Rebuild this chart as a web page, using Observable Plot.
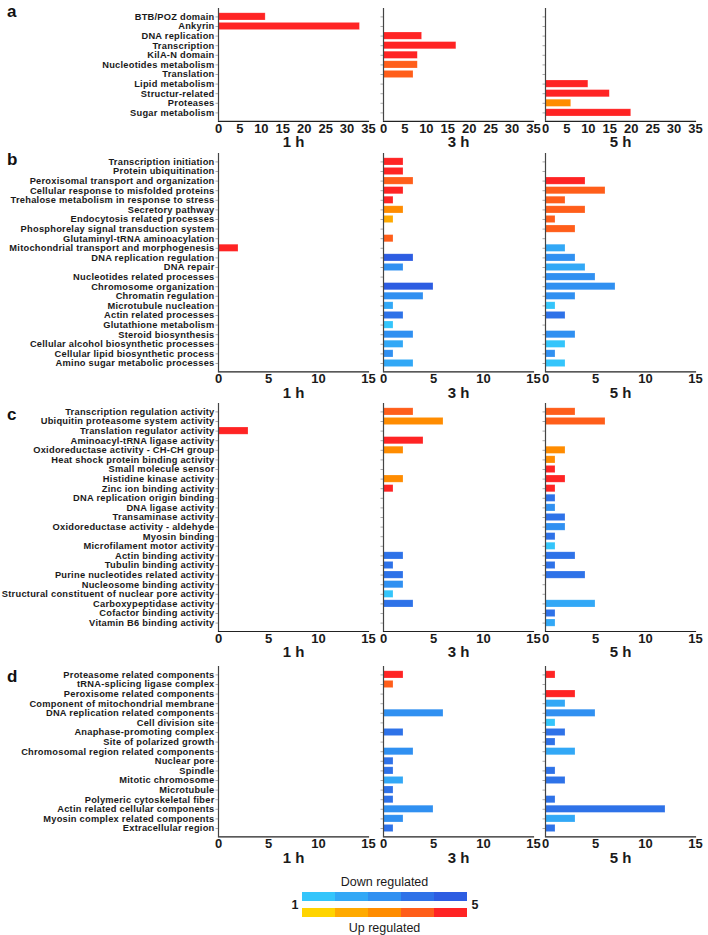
<!DOCTYPE html>
<html><head><meta charset="utf-8">
<script src="https://cdn.jsdelivr.net/npm/d3@7"></script>
<script src="https://cdn.jsdelivr.net/npm/@observablehq/plot@0.6"></script>
<style>
body{margin:0;background:#fff;}
#fig{position:relative;width:708px;height:935px;overflow:hidden;font-family:"Liberation Sans",Arial,sans-serif;}
#fig svg{position:absolute;overflow:visible;}
#fig g[aria-label="y-axis tick label"]{letter-spacing:0.25px;}
.letter{position:absolute;font:bold 17px "Liberation Sans",Arial,sans-serif;line-height:17px;color:#111;}
</style></head><body><div id="fig"></div>
<script>
// ---------- data ----------
const times = ["1 h", "3 h", "5 h"];
const levelCodes = ["D1","D2","D3","D4","D5","U1","U2","U3","U4","U5"];
const levelColors = ["#34c5fb","#32a8f6","#3090f1","#2e72e8","#2d5de2","#ffd400","#ffaa00","#ff8c00","#ff5e1a","#ff2424"];
const xTicksA = [0,5,10,15,20,25,30,35];
const xTicksB = [0,5,10,15];

const aCategories = ["BTB/POZ domain","Ankyrin","DNA replication","Transcription","KilA-N domain","Nucleotides metabolism","Translation","Lipid metabolism","Structur-related","Proteases","Sugar metabolism"];
const aValues1h = [11,33,0,0,0,0,0,0,0,0,0];
const aLevels1h = ["U5","U5","","","","","","","","",""];
const aValues3h = [0,0,9,17,8,8,7,0,0,0,0];
const aLevels3h = ["","","U5","U5","U5","U4","U4","","","",""];
const aValues5h = [0,0,0,0,0,0,0,10,15,6,20];
const aLevels5h = ["","","","","","","","U5","U5","U3","U5"];

const bCategories = ["Transcription initiation","Protein ubiquitination","Peroxisomal transport and organization","Cellular response to misfolded proteins","Trehalose metabolism in response to stress","Secretory pathway","Endocytosis related processes","Phosphorelay signal transduction system","Glutaminyl-tRNA aminoacylation","Mitochondrial transport and morphogenesis","DNA replication regulation","DNA repair","Nucleotides related processes","Chromosome organization","Chromatin regulation","Microtubule nucleation","Actin related processes","Glutathione metabolism","Steroid biosynthesis","Cellular alcohol biosynthetic processes","Cellular lipid biosynthetic process","Amino sugar metabolic processes"];
const bValues1h = [0,0,0,0,0,0,0,0,0,2,0,0,0,0,0,0,0,0,0,0,0,0];
const bLevels1h = ["","","","","","","","","","U5","","","","","","","","","","","",""];
const bValues3h = [2,2,3,2,1,2,1,0,1,0,3,2,0,5,4,1,2,1,3,2,1,3];
const bLevels3h = ["U5","U5","U4","U5","U5","U3","U2","","U4","","D5","D3","","D5","D3","D2","D4","D1","D3","D2","D3","D2"];
const bValues5h = [0,0,4,6,2,4,1,3,0,2,3,4,5,7,3,1,2,0,3,2,1,2];
const bLevels5h = ["","","U5","U4","U4","U4","U4","U4","","D2","D3","D2","D3","D3","D3","D1","D4","","D3","D1","D3","D1"];

const cCategories = ["Transcription regulation activity","Ubiquitin proteasome system activity","Translation regulator activity","Aminoacyl-tRNA ligase activity","Oxidoreductase activity - CH-CH group","Heat shock protein binding activity","Small molecule sensor","Histidine kinase activity","Zinc ion binding activity","DNA replication origin binding","DNA ligase activity","Transaminase activity","Oxidoreductase activity - aldehyde","Myosin binding","Microfilament motor activity","Actin binding activity","Tubulin binding activity","Purine nucleotides related activity","Nucleosome binding activity","Structural constituent of nuclear pore activity","Carboxypeptidase activity","Cofactor binding activity","Vitamin B6 binding activity"];
const cValues1h = [0,0,3,0,0,0,0,0,0,0,0,0,0,0,0,0,0,0,0,0,0,0,0];
const cLevels1h = ["","","U5","","","","","","","","","","","","","","","","","","","",""];
const cValues3h = [3,6,0,4,2,0,0,2,1,0,0,0,0,0,0,2,1,2,2,1,3,0,0];
const cLevels3h = ["U4","U3","","U5","U3","","","U3","U5","","","","","","","D4","D4","D4","D3","D1","D4","",""];
const cValues5h = [3,6,0,0,2,1,1,2,1,1,1,2,2,1,1,3,1,4,0,0,5,1,1];
const cLevels5h = ["U4","U4","","","U3","U3","U5","U5","U5","D4","D3","D4","D3","D4","D1","D4","D4","D4","","","D2","D4","D2"];

const dCategories = ["Proteasome related components","tRNA-splicing ligase complex","Peroxisome related components","Component of mitochondrial membrane","DNA replication related components","Cell division site","Anaphase-promoting complex","Site of polarized growth","Chromosomal region related components","Nuclear pore","Spindle","Mitotic chromosome","Microtubule","Polymeric cytoskeletal fiber","Actin related cellular components","Myosin complex related components","Extracellular region"];
const dValues1h = [0,0,0,0,0,0,0,0,0,0,0,0,0,0,0,0,0];
const dLevels1h = ["","","","","","","","","","","","","","","","",""];
const dValues3h = [2,1,0,0,6,0,2,0,3,1,1,2,1,1,5,2,1];
const dLevels3h = ["U5","U4","","","D3","","D4","","D3","D4","D4","D2","D4","D4","D3","D3","D4"];
const dValues5h = [1,0,3,2,5,1,2,1,3,0,1,2,0,1,12,3,1];
const dLevels5h = ["U5","","U5","D2","D3","D1","D4","D4","D2","","D4","D4","","D4","D4","D2","D4"];

const legendLevels = [1,2,3,4,5];
const legendRows = ["Down regulated","Up regulated"];

// ---------- drawing ----------
const fig = document.getElementById("fig");
const FONT = "Liberation Sans, Arial, sans-serif";
const STEP = 9.6, PI = 0.25, PO = 0.5;
const INNER_W = 150;
const X0 = [218, 383, 545];

function subplot(cats, vals, lvls, t, xmax, ticks, firstRowY) {
  const data = cats.map((c, i) => ({cat: c, v: vals[i], lvl: lvls[i]})).filter(d => d.v > 0);
  const n = cats.length;
  const range = STEP * (n - PI + 2 * PO);
  const mt = 4, mb = 32;
  const showLabels = t === 0;
  const ml = showLabels ? X0[0] : 12;
  const mr = 12;
  const svg = Plot.plot({
    width: ml + INNER_W + mr,
    height: mt + range + mb,
    marginLeft: ml, marginRight: mr, marginTop: mt, marginBottom: mb,
    style: {fontFamily: FONT, fontWeight: "bold", color: "#1a1a1a", background: "transparent", overflow: "visible"},
    x: {domain: [0, xmax]},
    y: {domain: cats, paddingInner: PI, paddingOuter: PO, round: false},
    color: {type: "ordinal", domain: levelCodes, range: levelColors},
    marks: [
      Plot.barX(data, {x: "v", y: "cat", fill: "lvl", stroke: "white", strokeOpacity: 0.35, strokeWidth: 0.6}),
      Plot.axisY({label: null, tickSize: 2.5, tickPadding: 1.5, fontSize: 9.3, stroke: "#aaa",
        tickFormat: showLabels ? (d => d) : (() => "")}),
      Plot.axisX(ticks, {label: null, tickSize: 0, tickPadding: 2, fontSize: 13}),
      Plot.ruleX([0], {stroke: "#444", strokeWidth: 1.2}),
      Plot.frame({anchor: "bottom", stroke: "#222", strokeWidth: 1.2}),
      Plot.text([times[t]], {text: d => d, frameAnchor: "bottom", lineAnchor: "middle", dy: 21, fontSize: 15, fontWeight: "bold"})
    ]
  });
  const r0 = firstRowY - STEP * (PO + (1 - PI) / 2);
  svg.style.left = (X0[t] - ml) + "px";
  svg.style.top = (r0 - mt) + "px";
  fig.appendChild(svg);
}

function panel(cats, valsList, lvlsList, xmax, ticks, firstRowY, letter, letterY) {
  for (let t = 0; t < 3; t++) subplot(cats, valsList[t], lvlsList[t], t, xmax, ticks, firstRowY);
  const div = document.createElement("div");
  div.className = "letter";
  div.textContent = letter;
  div.style.left = "7px";
  div.style.top = (letterY - 9) + "px";
  fig.appendChild(div);
}

panel(aCategories, [aValues1h, aValues3h, aValues5h], [aLevels1h, aLevels3h, aLevels5h], 35, xTicksA, 16, "a", 12);
panel(bCategories, [bValues1h, bValues3h, bValues5h], [bLevels1h, bLevels3h, bLevels5h], 15, xTicksB, 161, "b", 160);
panel(cCategories, [cValues1h, cValues3h, cValues5h], [cLevels1h, cLevels3h, cLevels5h], 15, xTicksB, 411, "c", 415);
panel(dCategories, [dValues1h, dValues3h, dValues5h], [dLevels1h, dLevels3h, dLevels5h], 15, xTicksB, 674, "d", 677);

// legend
const legendCells = [];
legendRows.forEach((r, ri) => legendLevels.forEach(l => legendCells.push({row: r, level: l, code: (ri === 0 ? "D" : "U") + l})));
const legend = Plot.plot({
  width: 208, height: 20 + 27 + 16,
  marginLeft: 20, marginRight: 20, marginTop: 20, marginBottom: 16,
  style: {fontFamily: FONT, color: "#1a1a1a", background: "transparent", overflow: "visible"},
  x: {domain: legendLevels, padding: 0, axis: null},
  y: {domain: legendRows, paddingInner: 0.41, paddingOuter: 0, axis: null},
  color: {type: "ordinal", domain: levelCodes, range: levelColors},
  marks: [
    Plot.cell(legendCells, {x: "level", y: "row", fill: "code"}),
    Plot.text([legendRows[0]], {text: d => d, frameAnchor: "top", lineAnchor: "middle", dy: -10, fontSize: 12.5}),
    Plot.text([legendRows[1]], {text: d => d, frameAnchor: "bottom", lineAnchor: "middle", dy: 9, fontSize: 12.5}),
    Plot.text([String(legendLevels[0])], {text: d => d, frameAnchor: "left", dx: -9, fontSize: 12.5, fontWeight: "bold"}),
    Plot.text([String(legendLevels[4])], {text: d => d, frameAnchor: "right", dx: 10, fontSize: 12.5, fontWeight: "bold"})
  ]
});
legend.style.left = "280px";
legend.style.top = "871px";
fig.appendChild(legend);
</script>
</body></html>
